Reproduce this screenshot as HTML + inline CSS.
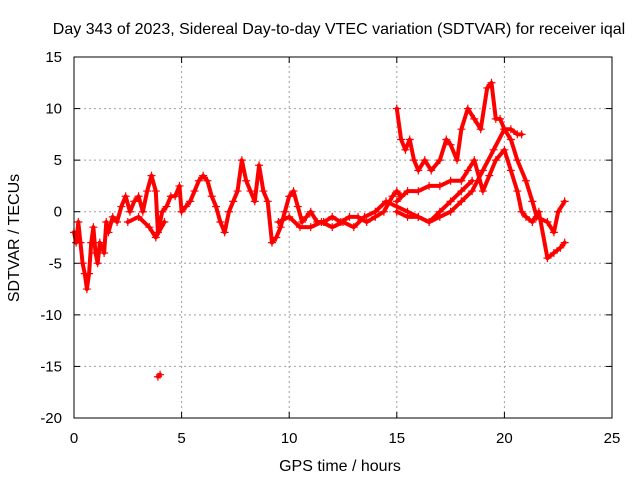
<!DOCTYPE html>
<html>
<head>
<meta charset="utf-8">
<style>
  html, body { margin: 0; padding: 0; background: #fff; }
  svg { display: block; font-family: "Liberation Sans", sans-serif; }
</style>
</head>
<body>
<svg id="chart" width="640" height="480" viewBox="0 0 640 480">
  <rect x="0" y="0" width="640" height="480" fill="#fff"/>
  <text x="339" y="34" font-size="16" text-anchor="middle" fill="#000">Day 343 of 2023, Sidereal Day-to-day VTEC variation (SDTVAR) for receiver iqal</text>
  <g id="grid"></g>
  <g id="ticks"></g>
  <g id="series"></g>
  <rect x="74" y="57" width="538" height="361" fill="none" stroke="#000" stroke-width="1"/>
  <text x="340" y="471" font-size="16" text-anchor="middle">GPS time / hours</text>
  <text x="19" y="238" font-size="16" text-anchor="middle" transform="rotate(-90 19 238)">SDTVAR / TECUs</text>
</svg>
<script>
const xTicks = [0, 5, 10, 15, 20, 25];
const yTicks = [15, 10, 5, 0, -5, -10, -15, -20];
const traceAx = [0,0.1,0.2,0.3,0.4,0.5,0.6,0.7,0.8,0.9,1.0,1.1,1.2,1.4,1.5,1.6,1.8,2.0,2.2,2.4,2.6,2.8,3.0,3.2,3.4,3.6,3.8,3.9,4.1,4.3,4.5,4.7,4.9,5.0,5.2,5.4,5.6,5.8,6.0,6.2,6.4,6.6,6.8,7.0,7.2,7.4,7.6,7.8,8.0,8.2,8.4,8.6,8.8,9.0,9.2,9.4,9.6,9.8,10,10.2,10.4,10.6,10.8,11,11.3,11.6,12,12.4,12.8,13.2,13.6,14,14.4,14.8,15,15.2];
const traceAy = [-2,-3,-1,-3,-5,-6,-7.5,-6,-3,-1.5,-4,-5,-3,-4,-1,-2,-0.5,-1,0.5,1.5,0,1,1.5,0,2,3.5,2,-2,0,0.5,1.5,1.5,2.5,0,0.5,1,2,3,3.5,3,1.5,0.5,-1,-2,0,1,2,5,3,2,1,4.5,2,1,-3,-2.5,-1.5,0,1.5,2,0.5,-1,-0.5,0,-1,-1,-0.5,-1,-0.5,-0.5,-1,-0.5,0,1.5,2,1.5];
const traceBx = [2.5,3.0,3.5,3.8,4.2,9.5,10,10.5,11,11.5,12,12.5,13,13.5,14,14.5,15,15.5,16,16.5,17,17.5,18,18.5,19,19.5,20,20.3,20.6,21,21.3,21.5,22,22.3,22.5,22.8];
const traceBy = [-1,-0.5,-1.5,-2.5,-1,-1,-0.5,-1.5,-1.5,-1,-1.5,-1,-1.5,-0.5,0,1,0.5,0,-0.5,-1,-0.5,0,1,2,4,6,8,7,5,3,1,-0.5,-1,-2,0,1];
const traceCx = [15,15.2,15.4,15.6,15.8,16,16.3,16.6,17,17.3,17.5,17.8,18,18.3,18.6,18.9,19.2,19.4,19.6,19.8,20,20.3,20.6,20.8];
const traceCy = [10,7,6,7,5,4,5,4,5,7,6.5,5,8,10,9,8,12,12.5,9,9,8,8,7.5,7.5];
const traceDx = [15,15.5,16,16.5,17,17.5,18,18.3,18.6,19,19.3,19.6,20,20.3,20.6,20.8,21,21.3,21.6,22,22.3,22.6,22.8];
const traceDy = [1,2,2,2.5,2.5,3,3,4,5,2,3.5,5,6,4,2,0,-0.5,-1,0,-4.5,-4,-3.5,-3];
const traceEx = [15,15.5,16,16.5,17,17.5,18,18.5];
const traceEy = [0,-0.5,-0.5,-1,0,1,2,3];
const outlierX = [3.9,4.0];
const outlierY = [-16,-15.8];

const NS = "http://www.w3.org/2000/svg";
const X0 = 74, X1 = 612, Y0 = 418, Y1 = 57;
const xMin = 0, xMax = 25, yMin = -20, yMax = 15;
function sx(v){ return X0 + (v - xMin) / (xMax - xMin) * (X1 - X0); }
function sy(v){ return Y0 - (v - yMin) / (yMax - yMin) * (Y0 - Y1); }
function mk(tag, attrs){ const e = document.createElementNS(NS, tag); for (const k in attrs) e.setAttribute(k, attrs[k]); return e; }

const grid = document.getElementById('grid');
const ticks = document.getElementById('ticks');
xTicks.forEach(t => {
  const x = sx(t);
  if (t > xMin && t < xMax) {
    const g = mk('line', {x1:x, y1:Y0, x2:x, y2:Y1, stroke:'#a0a0a0', 'stroke-width':1, 'stroke-dasharray':'2,3'});
    
    
    grid.appendChild(g);
  }
  const tk = mk('line', {x1:x, y1:Y0, x2:x, y2:Y0-6, stroke:'#000'});
  
  
  ticks.appendChild(tk);
  const tk2 = mk('line', {x1:x, y1:Y1, x2:x, y2:Y1+6, stroke:'#000'});
  
  
  ticks.appendChild(tk2);
  const lb = mk('text', {x:x, y:Y0+25, 'font-size':15, 'text-anchor':'middle'});
  lb.textContent = t;
  
  
  ticks.appendChild(lb);
});
yTicks.forEach(t => {
  const y = sy(t);
  if (t > yMin && t < yMax) {
    const g = mk('line', {x1:X0, y1:y, x2:X1, y2:y, stroke:'#a0a0a0', 'stroke-width':1, 'stroke-dasharray':'2,3'});
    
    
    grid.appendChild(g);
  }
  const tk = mk('line', {x1:X0, y1:y, x2:X0+6, y2:y, stroke:'#000'});
  
  
  ticks.appendChild(tk);
  const tk2 = mk('line', {x1:X1, y1:y, x2:X1-6, y2:y, stroke:'#000'});
  
  
  ticks.appendChild(tk2);
  const lb = mk('text', {x:X0-12, y:y+5, 'font-size':15, 'text-anchor':'end'});
  lb.textContent = t;
  
  
  ticks.appendChild(lb);
});

const series = document.getElementById('series');
function drawTrace(xs, ys, name, band){
  if (band) {
    const pl = mk('polyline', {points: xs.map((x,i)=>sx(x)+','+sy(ys[i])).join(' '), fill:'none', stroke:'#ff0000', 'stroke-width':4, 'stroke-linejoin':'round', 'stroke-linecap':'round'});
    
    
    series.appendChild(pl);
  }
  xs.forEach((x,i) => {
    const cx = sx(x), cy = sy(ys[i]);
    const p = mk('path', {d:'M'+(cx-4)+','+cy+'H'+(cx+4)+'M'+cx+','+(cy-4)+'V'+(cy+4), stroke:'#ff0000', 'stroke-width':1.2, fill:'none'});
    
    
    series.appendChild(p);
  });
}
drawTrace(traceAx, traceAy, 'trace-a', true);
drawTrace(traceBx.slice(0,5), traceBy.slice(0,5), 'trace-b-early', true);
drawTrace(traceBx.slice(5), traceBy.slice(5), 'trace-b', true);
drawTrace(traceCx, traceCy, 'trace-c', true);
drawTrace(traceDx, traceDy, 'trace-d', true);
drawTrace(traceEx, traceEy, 'trace-e', true);
drawTrace(outlierX, outlierY, 'outlier', true);
</script>
</body>
</html>
